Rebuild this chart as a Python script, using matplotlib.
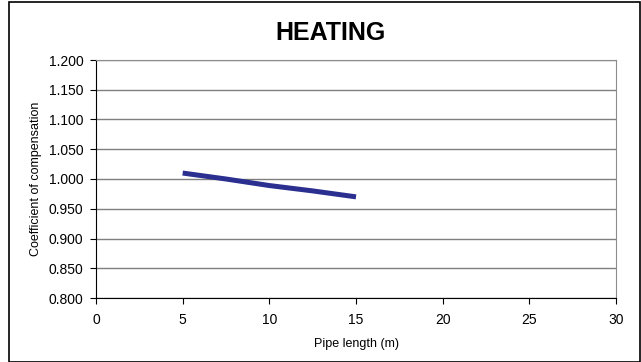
import matplotlib
matplotlib.use("Agg")
import matplotlib.pyplot as plt
from matplotlib.patches import Rectangle

plt.rcParams['font.family'] = ['Liberation Sans', 'DejaVu Sans']

pipe_length = [5, 7.5, 10, 12.5, 15]
coefficient = [1.010, 1.000, 0.989, 0.980, 0.970]
x_ticks = [0, 5, 10, 15, 20, 25, 30]
y_ticks = [0.800, 0.850, 0.900, 0.950, 1.000, 1.050, 1.100, 1.150, 1.200]

fig = plt.figure(figsize=(6.41, 3.62), dpi=100)
fig.patches.append(Rectangle((9/641, 0.0), 631/641, 1 - 2/362, transform=fig.transFigure,
                             fill=False, edgecolor='black', linewidth=1.2))
ax = fig.add_axes([96/641, 64/362, 520/641, 238/362])

ax.plot(pipe_length, coefficient, color='#2B2F8F', linewidth=3.6, solid_capstyle='butt')

ax.set_xlim(0, 30)
ax.set_ylim(0.8, 1.2)
ax.set_xticks(x_ticks)
ax.set_yticks(y_ticks)
ax.set_yticklabels([f"{v:.3f}" for v in y_ticks])
ax.yaxis.grid(True, color='#7f7f7f', linewidth=1.0)
ax.set_axisbelow(True)
for s in ['top', 'right']:
    ax.spines[s].set_color('#8c8c8c')
for s in ['left', 'bottom']:
    ax.spines[s].set_color('black')
ax.tick_params(axis='both', labelsize=10, length=4, color='black')
ax.tick_params(axis='x', pad=7)
ax.tick_params(axis='y', pad=5)
ax.set_xlabel('Pipe length (m)', fontsize=9, labelpad=8)
ax.set_ylabel('Coefficient of compensation', fontsize=9, labelpad=5)
fig.text(0.5 + 10/641, 1 - 33/362, 'HEATING', ha='center', va='center', fontsize=18, fontweight='bold')

fig.savefig('out.png', dpi=100)
